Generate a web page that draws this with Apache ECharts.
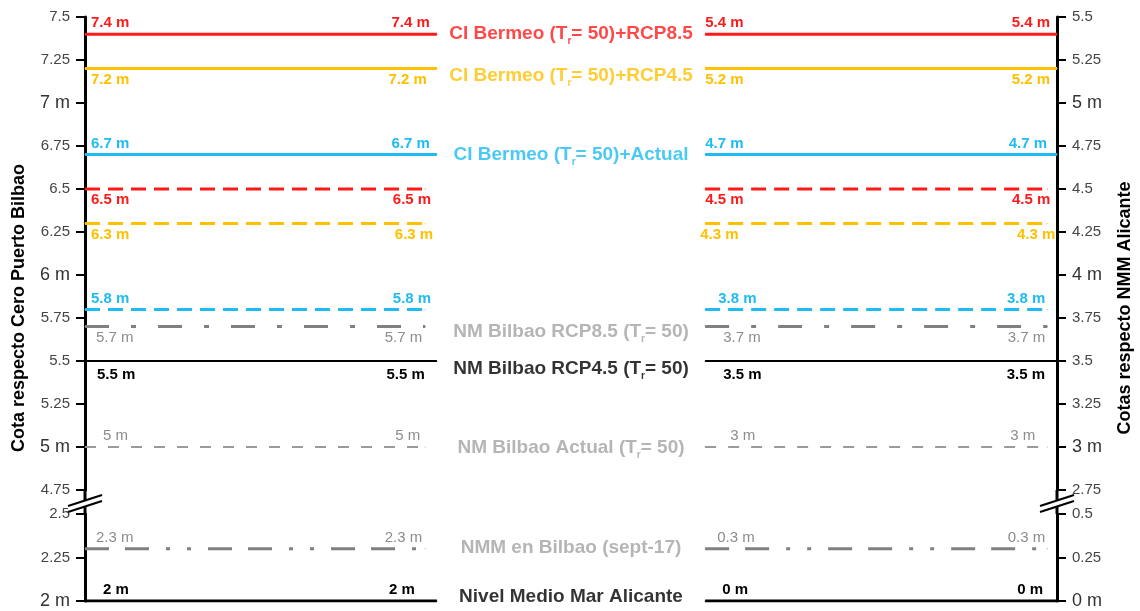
<!DOCTYPE html>
<html>
<head>
<meta charset="utf-8">
<script src="https://cdn.jsdelivr.net/npm/echarts@6/dist/echarts.min.js"></script>
<style>
html, body { margin: 0; padding: 0; background: #fff; }
#main { width: 1140px; height: 611px; }
</style>
</head>
<body>
<div id="main"></div>
<script>
// cotas (m) respecto Cero Puerto Bilbao / respecto NMM Alicante
var levelsBilbao = [7.4, 7.2, 6.7, 6.5, 6.3, 5.8, 5.7, 5.5, 5, 2.3, 2];
var levelsAlicante = [5.4, 5.2, 4.7, 4.5, 4.3, 3.8, 3.7, 3.5, 3, 0.3, 0];
var levelNames = [
    'CI Bermeo (Tr= 50)+RCP8.5',
    'CI Bermeo (Tr= 50)+RCP4.5',
    'CI Bermeo (Tr= 50)+Actual',
    '', '', '',
    'NM Bilbao RCP8.5 (Tr= 50)',
    'NM Bilbao RCP4.5 (Tr= 50)',
    'NM Bilbao Actual (Tr= 50)',
    'NMM en Bilbao (sept-17)',
    'Nivel Medio Mar Alicante'
];
// ejes: tramo superior y tramo inferior (corte entre medias)
var rangeBilbao = [[4.75, 7.5], [2, 2.5]];
var rangeAlicante = [[2.75, 5.5], [0, 0.5]];
var tickStep = 0.25;

var RED = '#ff1a1a', GOLD = '#ffc000', CYAN = '#1ebcf2', GRAY = '#808080', LGRAY = '#a3a3a3', BLACK = '#000';
var DASH = [15, 8];
var FONT = 'Liberation Sans, Arial, sans-serif';

// estilo de cada linea (mismo orden que los datos)
var looks = [
    {c: RED, dash: 'solid', w: 3, side: 'top', bold: true, off: [6, -7, 0, -7], nc: RED, ndy: 0},
    {c: GOLD, dash: 'solid', w: 3, side: 'bottom', bold: true, off: [6, -10, 0, -7], nc: GOLD, ndy: 7},
    {c: CYAN, dash: 'solid', w: 3, side: 'top', bold: true, off: [6, -7, 0, -10], nc: CYAN, ndy: 0},
    {c: RED, dash: DASH, w: 3, side: 'bottom', bold: true, off: [6, 6, 0, 3]},
    {c: GOLD, dash: DASH, w: 3, side: 'bottom', bold: true, off: [6, 8, -5, 8]},
    {c: CYAN, dash: DASH, w: 3, side: 'top', bold: true, off: [6, 6, 13, -2]},
    {c: GRAY, dash: [24, 22, 5, 22], w: 3, side: 'bottom', bold: false, lc: '#8c8c8c', off: [11, -3, 18, -2], nc: LGRAY, ndy: 5},
    {c: BLACK, dash: 'solid', w: 2, side: 'bottom', bold: true, dist: 6, off: [12, -12, 18, -12], nc: BLACK, ndy: 8},
    {c: '#9a9a9a', dash: [11, 12], w: 2, side: 'top', bold: false, lc: '#8c8c8c', off: [18, -5, 25, -12], nc: LGRAY, ndy: 1},
    {c: GRAY, dash: [24, 16, 24, 17, 4, 17, 4, 17], w: 3, side: 'top', bold: false, lc: '#8c8c8c', off: [11, -3, 12, -2], nc: LGRAY, ndy: -1},
    {c: BLACK, dash: 'solid', w: 3, side: 'top', bold: true, off: [18, -22, 17, -14], nc: BLACK, ndy: -4}
];

function tickFormat(v) {
    if (Number.isInteger(v)) return '{m|' + v + ' m}';
    return '{n|' + v + '}';
}

function yAx(gi, pos, range) {
    return {
        type: 'value', gridIndex: gi, position: pos,
        min: range[0], max: range[1], interval: tickStep,
        axisLine: {show: true, onZero: false, lineStyle: {color: '#000', width: 3}},
        axisTick: {show: true, length: 9, lineStyle: {color: '#000', width: 2}},
        splitLine: {show: false},
        axisLabel: {
            margin: 15, showMinLabel: true, showMaxLabel: true,
            formatter: tickFormat,
            rich: {
                n: {fontSize: 15, color: '#454545', fontFamily: FONT},
                m: {fontSize: 18, color: '#333', fontFamily: FONT}
            }
        }
    };
}

function endLabel(txt, lk, align, dx) {
    return {
        show: true, formatter: txt, position: lk.side, distance: lk.dist || 3,
        align: align, offset: [dx, 0],
        color: lk.lc || lk.c, fontSize: 15,
        fontWeight: lk.bold ? 'bold' : 'normal', fontFamily: FONT
    };
}

var series = [];
for (var i = 0; i < levelsBilbao.length; i++) {
    var lk = looks[i];
    var vb = levelsBilbao[i], va = levelsAlicante[i];
    var g = vb < rangeBilbao[0][0] ? 1 : 0;
    var solid = lk.dash === 'solid';
    var lEnd = solid ? 36.2 : 35, rStart = 63.8, rEnd = solid ? 100 : 99;
    var ls = {color: lk.c, width: lk.w, type: lk.dash, cap: 'butt'};
    var tb = vb + ' m', ta = va + ' m';

    series.push({
        type: 'line', xAxisIndex: g, yAxisIndex: g * 2, silent: true, animation: false,
        symbol: 'circle', symbolSize: 1, itemStyle: {color: lk.c}, lineStyle: ls,
        data: [
            {value: [0, vb], label: endLabel(tb, lk, 'left', lk.off[0])},
            {value: [lEnd, vb], label: endLabel(tb, lk, 'right', lk.off[1])}
        ]
    });
    series.push({
        type: 'line', xAxisIndex: g, yAxisIndex: g * 2 + 1, silent: true, animation: false,
        symbol: 'circle', symbolSize: 1, itemStyle: {color: lk.c}, lineStyle: ls,
        data: [
            {value: [rStart, va], label: endLabel(ta, lk, 'left', lk.off[2])},
            {value: [rEnd, va], label: endLabel(ta, lk, 'right', lk.off[3])}
        ]
    });
    if (levelNames[i]) {
        series.push({
            type: 'scatter', xAxisIndex: g, yAxisIndex: g * 2, silent: true, animation: false,
            symbolSize: 1, itemStyle: {color: '#fff'},
            data: [[50, vb]],
            label: {
                show: true, position: 'inside', offset: [0, lk.ndy],
                formatter: levelNames[i].replace('Tr=', 'T{s|r}='),
                color: lk.nc, fontSize: 19, fontWeight: 'bold', fontFamily: FONT,
                rich: {s: {fontSize: 10, verticalAlign: 'bottom', padding: [0, 0, -3, 0]}}
            }
        });
    }
}

var chart = echarts.init(document.getElementById('main'), null, {renderer: 'canvas'});
var option = {
    backgroundColor: '#fff',
    textStyle: {fontFamily: FONT},
    grid: [
        {left: 85, right: 83, top: 17, height: 473, outerBoundsMode: 'none'},
        {left: 85, right: 83, top: 514, height: 87, outerBoundsMode: 'none'}
    ],
    xAxis: [
        {type: 'value', gridIndex: 0, min: 0, max: 100, show: false},
        {type: 'value', gridIndex: 1, min: 0, max: 100, show: false}
    ],
    yAxis: [
        yAx(0, 'left', rangeBilbao[0]),
        yAx(0, 'right', rangeAlicante[0]),
        yAx(1, 'left', rangeBilbao[1]),
        yAx(1, 'right', rangeAlicante[1])
    ],
    series: series
};
chart.setOption(option);

// corte de eje "//" y titulos de ejes
var yTop = chart.convertToPixel({yAxisIndex: 0}, rangeBilbao[0][0]);
var yBot = chart.convertToPixel({yAxisIndex: 2}, rangeBilbao[1][1]);
var xL = chart.convertToPixel({xAxisIndex: 0}, 0);
var xR = chart.convertToPixel({xAxisIndex: 0}, 100);
var ym = (yTop + yBot) / 2;
var gfx = [];
[xL, xR].forEach(function (x0) {
    gfx.push({type: 'line', shape: {x1: x0, y1: yTop, x2: x0, y2: yBot}, style: {stroke: '#000', lineWidth: 3}, z: 10});
    gfx.push({type: 'polygon', shape: {points: [[x0 - 17, ym + 4], [x0 + 17, ym - 7], [x0 + 17, ym - 1], [x0 - 17, ym + 10]]}, style: {fill: '#fff'}, z: 11});
    gfx.push({type: 'line', shape: {x1: x0 - 17, y1: ym + 4, x2: x0 + 17, y2: ym - 7}, style: {stroke: '#000', lineWidth: 2}, z: 12});
    gfx.push({type: 'line', shape: {x1: x0 - 17, y1: ym + 10, x2: x0 + 17, y2: ym - 1}, style: {stroke: '#000', lineWidth: 2}, z: 12});
});
gfx.push({
    type: 'text', x: 19, y: 308, rotation: Math.PI / 2,
    style: {text: 'Cota respecto Cero Puerto Bilbao', fill: '#000', font: 'bold 18px ' + FONT,
        textAlign: 'center', textVerticalAlign: 'middle', align: 'center', verticalAlign: 'middle'}
});
gfx.push({
    type: 'text', x: 1125, y: 308, rotation: Math.PI / 2,
    style: {text: 'Cotas respecto NMM Alicante', fill: '#000', font: 'bold 18px ' + FONT,
        textAlign: 'center', textVerticalAlign: 'middle', align: 'center', verticalAlign: 'middle'}
});
chart.setOption({graphic: gfx});
</script>
</body>
</html>
